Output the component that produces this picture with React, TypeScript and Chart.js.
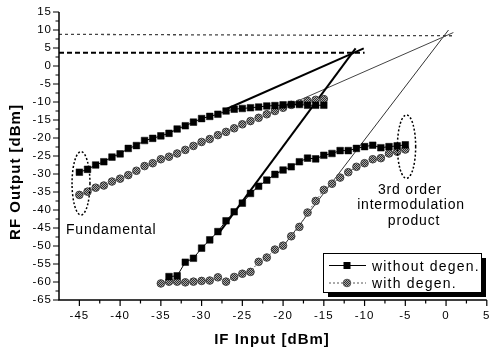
import React, { useEffect, useRef } from 'react';
import { Chart, registerables } from 'chart.js';

Chart.register(...registerables);

// ---- data ----
const FUND_X = [-45, -44, -43, -42, -41, -40, -39, -38, -37, -36, -35, -34, -33, -32, -31, -30, -29, -28, -27, -26, -25, -24, -23, -22, -21, -20, -19, -18, -17, -16, -15];
const FUND_WITHOUT = [-29.5, -28.7, -27.5, -26.6, -25.3, -24.4, -22.9, -22.1, -20.7, -20.1, -19.4, -18.7, -17.5, -16.6, -15.6, -14.6, -14.0, -13.4, -12.5, -12.0, -11.8, -11.6, -11.4, -11.1, -11.0, -10.8, -10.7, -10.7, -10.9, -10.9, -10.9];
const FUND_WITH = [-35.8, -34.9, -33.8, -33.2, -32.1, -31.3, -30.3, -29.1, -27.8, -27.0, -25.9, -25.2, -24.3, -23.3, -22.2, -21.1, -20.3, -19.2, -18.3, -17.3, -16.2, -15.3, -14.4, -13.4, -12.5, -11.6, -10.8, -10.4, -9.7, -9.4, -9.2];

const IM3_WITHOUT_X = [-34, -33, -32, -31, -30, -29, -28, -27, -26, -25, -24, -23, -22, -21, -20, -19, -18, -17, -16, -15, -14, -13, -12, -11, -10, -9, -8, -7, -6, -5];
const IM3_WITHOUT = [-58.5, -58.3, -54.5, -53.4, -50.6, -48.3, -46.0, -43.0, -40.5, -38.1, -35.4, -33.4, -31.7, -30.1, -28.9, -28.0, -26.6, -25.6, -25.8, -24.8, -24.3, -23.5, -23.5, -22.9, -22.4, -22.0, -22.7, -22.4, -22.2, -21.9];

const IM3_WITH_X = [-35, -34, -33, -32, -31, -30, -29, -28, -27, -26, -25, -24, -23, -22, -21, -20, -19, -18, -17, -16, -15, -14, -13, -12, -11, -10, -9, -8, -7, -6, -5];
const IM3_WITH = [-60.4, -59.9, -59.9, -60.1, -59.9, -59.7, -59.6, -58.7, -59.9, -58.6, -57.7, -57.2, -54.4, -53.2, -51.0, -49.9, -47.3, -44.7, -40.7, -37.5, -34.4, -32.7, -31.0, -29.5, -28.0, -27.0, -25.9, -25.6, -24.3, -23.8, -23.2];

// extrapolation lines (x, y pairs)
const FIT_FUND_WITHOUT_X = [-27.3, -10.1];
const FIT_FUND_WITHOUT_Y = [-12.3, 4.9];
const FIT_IM3_WITHOUT_X = [-27.9, -11.1];
const FIT_IM3_WITHOUT_Y = [-46.5, 4.9];
const FIT_FUND_WITH_X = [-20.0, 0.9];
const FIT_FUND_WITH_Y = [-11.5, 9.3];
const FIT_IM3_WITH_X = [-20.2, 0.3];
const FIT_IM3_WITH_Y = [-50.7, 10.0];
const OIP3_WITHOUT_X = [-47.5, -10.0];
const OIP3_WITHOUT_Y = [3.7, 3.7];
const OIP3_WITH_X = [-47.5, 0.9];
const OIP3_WITH_Y = [8.8, 8.4];

// ellipses: [centerX, centerY, radiusX, radiusY] in data units
const ELLIPSE_FUND = [-44.8, -32.6, 1.1, 8.8];
const ELLIPSE_IM3 = [-4.85, -22.4, 1.12, 8.8];

const X_TICKS = [-45, -40, -35, -30, -25, -20, -15, -10, -5, 0, 5];
const Y_TICKS = [-65, -60, -55, -50, -45, -40, -35, -30, -25, -20, -15, -10, -5, 0, 5, 10, 15];
const X_MIN = -47.5;
const X_MAX = 5;
const Y_MIN = -65;
const Y_MAX = 15;

const X_TITLE = 'IF Input [dBm]';
const Y_TITLE = 'RF Output [dBm]';
const LEGEND_LABELS = ['without degen.', 'with degen.'];
const NOTE_FUND = 'Fundamental';
const NOTE_IM3 = ['3rd order', 'intermodulation', 'product'];

const FONT = '"Liberation Sans", Arial, Helvetica, sans-serif';

const pts = (xs: number[], ys: number[]) => xs.map((x, i) => ({ x, y: ys[i] }));

export default function App() {
  const ref = useRef<HTMLCanvasElement>(null);

  useEffect(() => {
    const canvas = ref.current!;
    const pc = document.createElement('canvas');
    pc.width = 2;
    pc.height = 2;
    const pctx = pc.getContext('2d')!;
    pctx.fillStyle = '#a8a8a8';
    pctx.fillRect(0, 0, 2, 2);
    pctx.fillStyle = '#2e2e2e';
    pctx.fillRect(0, 0, 1, 1);
    pctx.fillRect(1, 1, 1, 1);
    const pattern = canvas.getContext('2d')!.createPattern(pc, 'repeat')!;

    const decor = {
      id: 'decor',
      beforeDraw(chart: any) {
        chart.ctx.letterSpacing = '1px';
      },
      beforeDatasetsDraw(chart: any) {
        chart.ctx.letterSpacing = '0px';
      },
      afterDraw(chart: any) {
        const ctx = chart.ctx as CanvasRenderingContext2D;
        const xs = chart.scales.x;
        const ys = chart.scales.y;
        const { left, right, top, bottom } = chart.chartArea;
        ctx.save();
        ctx.letterSpacing = '0px';
        // axes
        ctx.strokeStyle = '#000';
        ctx.lineWidth = 1.5;
        ctx.beginPath();
        ctx.moveTo(left, top);
        ctx.lineTo(left, bottom);
        ctx.lineTo(right, bottom);
        ctx.stroke();
        ctx.lineWidth = 1.2;
        ctx.beginPath();
        Y_TICKS.forEach((v, i) => {
          const py = ys.getPixelForValue(v);
          ctx.moveTo(left - 6, py);
          ctx.lineTo(left, py);
          if (i < Y_TICKS.length - 1) {
            const my = ys.getPixelForValue((v + Y_TICKS[i + 1]) / 2);
            ctx.moveTo(left - 3.5, my);
            ctx.lineTo(left, my);
          }
        });
        X_TICKS.forEach((v, i) => {
          const px = xs.getPixelForValue(v);
          ctx.moveTo(px, bottom);
          ctx.lineTo(px, bottom + 6);
          if (i < X_TICKS.length - 1) {
            const mx = xs.getPixelForValue((v + X_TICKS[i + 1]) / 2);
            ctx.moveTo(mx, bottom);
            ctx.lineTo(mx, bottom + 3.5);
          }
        });
        ctx.stroke();

        // ellipses
        const drawEllipse = (e: number[]) => {
          const cx = xs.getPixelForValue(e[0]);
          const cy = ys.getPixelForValue(e[1]);
          const rx = Math.abs(xs.getPixelForValue(e[0] + e[2]) - cx);
          const ry = Math.abs(ys.getPixelForValue(e[1] + e[3]) - cy);
          ctx.beginPath();
          ctx.setLineDash([2, 2]);
          ctx.lineWidth = 1.5;
          ctx.ellipse(cx, cy, rx, ry, 0, 0, Math.PI * 2);
          ctx.stroke();
          ctx.setLineDash([]);
        };
        drawEllipse(ELLIPSE_FUND);
        drawEllipse(ELLIPSE_IM3);

        // annotations
        ctx.fillStyle = '#000';
        ctx.font = `14px ${FONT}`;
        ctx.letterSpacing = '0.8px';
        ctx.textBaseline = 'alphabetic';
        ctx.textAlign = 'left';
        ctx.fillText(NOTE_FUND, 66, 234);
        ctx.textAlign = 'center';
        ctx.fillText(NOTE_IM3[0], 410, 193.5);
        ctx.fillText(NOTE_IM3[1], 411, 209);
        ctx.fillText(NOTE_IM3[2], 414, 224.5);

        // axis titles
        ctx.font = `bold 15px ${FONT}`;
        ctx.letterSpacing = '1px';
        ctx.textBaseline = 'middle';
        ctx.textAlign = 'center';
        ctx.fillText(X_TITLE, 272, 340);
        ctx.save();
        ctx.translate(16, 172);
        ctx.rotate(-Math.PI / 2);
        ctx.fillText(Y_TITLE, 0, 0);
        ctx.restore();

        // legend
        const lx = 323, ly = 253, lw = 158, lh = 39;
        ctx.fillStyle = '#000';
        ctx.fillRect(lx + 5, ly + 5, lw, lh);
        ctx.fillStyle = '#fff';
        ctx.fillRect(lx, ly, lw, lh);
        ctx.strokeStyle = '#000';
        ctx.lineWidth = 1;
        ctx.strokeRect(lx + 0.5, ly + 0.5, lw, lh);
        const rows = [265.5, 283];
        ctx.beginPath();
        ctx.moveTo(329, rows[0]);
        ctx.lineTo(366, rows[0]);
        ctx.stroke();
        ctx.fillStyle = '#000';
        ctx.fillRect(347 - 3.5, rows[0] - 3.5, 7, 7);
        ctx.strokeStyle = '#555';
        ctx.setLineDash([2, 2]);
        ctx.beginPath();
        ctx.moveTo(329, rows[1]);
        ctx.lineTo(366, rows[1]);
        ctx.stroke();
        ctx.setLineDash([]);
        ctx.beginPath();
        ctx.arc(347, rows[1], 3.8, 0, Math.PI * 2);
        ctx.fillStyle = pattern;
        ctx.fill();
        ctx.strokeStyle = '#555';
        ctx.stroke();
        ctx.fillStyle = '#000';
        ctx.font = `14px ${FONT}`;
        ctx.letterSpacing = '1.2px';
        ctx.textAlign = 'left';
        ctx.textBaseline = 'alphabetic';
        ctx.fillText(LEGEND_LABELS[0], 372, 270.5);
        ctx.fillText(LEGEND_LABELS[1], 372, 288);
        ctx.restore();
      },
    };

    const sq = {
      showLine: true,
      borderColor: '#000',
      borderWidth: 1,
      pointStyle: 'rect',
      pointRadius: 4.7,
      pointBackgroundColor: '#000',
      pointBorderColor: '#000',
      pointBorderWidth: 0.5,
      order: 1,
    };
    const ci = {
      showLine: true,
      borderColor: '#666',
      borderWidth: 1,
      borderDash: [2, 2],
      pointStyle: 'circle',
      pointRadius: 3.8,
      pointBackgroundColor: pattern,
      pointBorderColor: '#444',
      pointBorderWidth: 1,
      order: 1,
    };
    const line = (w: number, c: string, dash: number[] = []) => ({
      showLine: true,
      borderColor: c,
      borderWidth: w,
      borderDash: dash,
      pointRadius: 0,
      order: 2,
    });

    const chart = new Chart(canvas, {
      type: 'scatter',
      data: {
        datasets: [
          { label: 'fund without', data: pts(FUND_X, FUND_WITHOUT), ...sq },
          { label: 'fund with', data: pts(FUND_X, FUND_WITH), ...ci },
          { label: 'im3 without', data: pts(IM3_WITHOUT_X, IM3_WITHOUT), ...sq },
          { label: 'im3 with', data: pts(IM3_WITH_X, IM3_WITH), ...ci },
          { label: 'fit fund without', data: pts(FIT_FUND_WITHOUT_X, FIT_FUND_WITHOUT_Y), ...line(2, '#000') },
          { label: 'fit im3 without', data: pts(FIT_IM3_WITHOUT_X, FIT_IM3_WITHOUT_Y), ...line(2, '#000') },
          { label: 'fit fund with', data: pts(FIT_FUND_WITH_X, FIT_FUND_WITH_Y), ...line(1, '#444') },
          { label: 'fit im3 with', data: pts(FIT_IM3_WITH_X, FIT_IM3_WITH_Y), ...line(1, '#333') },
          { label: 'oip3 without', data: pts(OIP3_WITHOUT_X, OIP3_WITHOUT_Y), ...line(2, '#000', [5, 3]) },
          { label: 'oip3 with', data: pts(OIP3_WITH_X, OIP3_WITH_Y), ...line(1.3, '#444', [3, 3]) },
        ] as any,
      },
      options: {
        animation: false,
        responsive: false,
        layout: { padding: { top: 12, right: 2, left: 0, bottom: 0 } },
        plugins: { legend: { display: false }, tooltip: { enabled: false } },
        scales: {
          x: {
            type: 'linear',
            min: X_MIN,
            max: X_MAX,
            grid: { display: false, drawTicks: false },
            border: { display: false },
            ticks: { color: '#000', padding: 9, font: { family: FONT, size: 11.5 } },
            afterBuildTicks: (s: any) => {
              s.ticks = X_TICKS.map((v) => ({ value: v }));
            },
            afterFit: (s: any) => {
              s.height = 51;
              s.paddingLeft = 0;
              s.paddingRight = 0;
            },
          },
          y: {
            type: 'linear',
            min: Y_MIN,
            max: Y_MAX,
            grid: { display: false, drawTicks: false },
            border: { display: false },
            ticks: { color: '#000', padding: 7, font: { family: FONT, size: 11.5 } },
            afterBuildTicks: (s: any) => {
              s.ticks = Y_TICKS.map((v) => ({ value: v }));
            },
            afterFit: (s: any) => {
              s.width = 59;
              s.paddingTop = 0;
              s.paddingBottom = 0;
            },
          },
        },
      } as any,
      plugins: [decor],
    });
    return () => chart.destroy();
  }, []);

  return (
    <div style={{ position: 'fixed', left: 0, top: 0, width: 492, height: 351, background: '#fff' }}>
      <canvas ref={ref} width={492} height={351} style={{ display: 'block' }} />
    </div>
  );
}
